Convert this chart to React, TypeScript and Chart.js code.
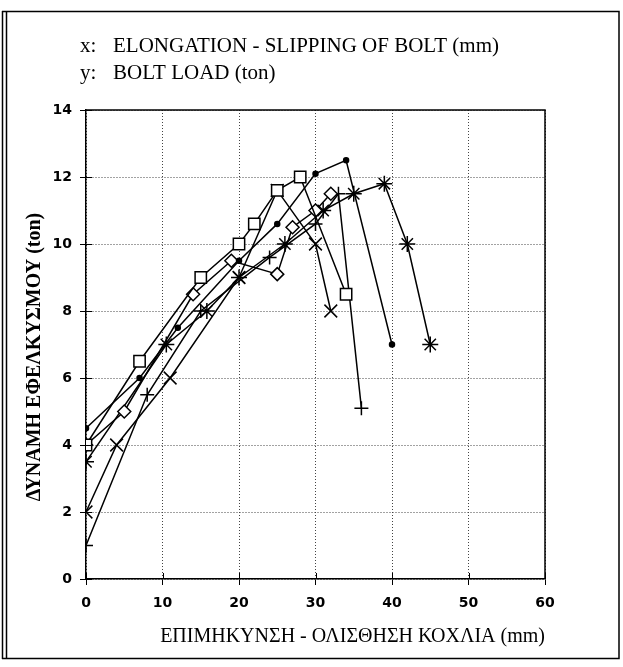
import React, { useEffect, useRef } from "react";
import { Chart, registerables } from "chart.js";

Chart.register(...registerables);

// ---- Text ----
const headerMarks = ["x:", "y:"];
const headerTexts = ["ELONGATION - SLIPPING OF BOLT (mm)", "BOLT LOAD (ton)"];
const xAxisTitle = "ΕΠΙΜΗΚΥΝΣΗ - ΟΛΙΣΘΗΣΗ ΚΟΧΛΙΑ (mm)";
const yAxisTitle = "ΔΥΝΑΜΗ ΕΦΕΛΚΥΣΜΟΥ (ton)";

// ---- Axes ----
const xMin = 0;
const xMax = 60;
const xStep = 10;
const yMin = 0;
const yMax = 14;
const yStep = 2;

// ---- Series (x: elongation mm, y: load ton) ----
const squareX = [0, 7, 15, 20, 22, 25, 28, 34];
const squareY = [4, 6.5, 9, 10, 10.6, 11.6, 12, 8.5];

const dotX = [0, 7, 12, 20, 25, 30, 34, 40];
const dotY = [4.5, 6, 7.5, 9.5, 10.6, 12.1, 12.5, 7];

const diamondX = [0, 5, 14, 19, 25, 27, 30, 32];
const diamondY = [4, 5, 8.5, 9.5, 9.1, 10.5, 11, 11.5];

const plusX = [0, 8, 15, 24, 30, 33, 36];
const plusY = [1, 5.5, 8, 9.6, 10.6, 11.5, 5.1];

const crossX = [0, 4, 11, 20, 25, 30, 32];
const crossY = [2, 4, 6, 9, 11.6, 10, 8];

const starX = [0, 10.5, 15.8, 20, 26, 31, 35, 39, 42, 45];
const starY = [3.5, 7, 8, 9, 10, 11, 11.5, 11.8, 10, 7];

const pts = (xs: number[], ys: number[]) => xs.map((x, i) => ({ x, y: ys[i] }));

const framePlugin = {
  id: "framePlugin",
  beforeDraw(chart: any) {
    const { ctx, width, height } = chart;
    ctx.save();
    ctx.fillStyle = "#ffffff";
    ctx.fillRect(0, 0, width, height);
    ctx.restore();
  },
  afterDraw(chart: any) {
    const { ctx, chartArea: a, scales } = chart;
    ctx.save();
    // header text
    ctx.fillStyle = "#000";
    ctx.font = '21px "Liberation Serif"';
    ctx.textAlign = "left";
    ctx.textBaseline = "alphabetic";
    ctx.fillText(headerMarks[0], 80, 52);
    ctx.fillText(headerTexts[0], 113, 52);
    ctx.fillText(headerMarks[1], 80, 79);
    ctx.fillText(headerTexts[1], 113, 79);

    // y axis title (rotated)
    ctx.save();
    ctx.translate(35, 357);
    ctx.rotate(-Math.PI / 2);
    ctx.font = 'bold 20px "Liberation Serif"';
    ctx.textAlign = "center";
    ctx.textBaseline = "middle";
    ctx.fillText(yAxisTitle, 0, 0);
    ctx.restore();

    // plot box top/right
    ctx.strokeStyle = "#000";
    ctx.lineWidth = 1.5;
    ctx.beginPath();
    ctx.moveTo(a.left, a.top);
    ctx.lineTo(a.right, a.top);
    ctx.lineTo(a.right, a.bottom);
    ctx.stroke();

    // inward tick marks
    ctx.lineWidth = 1;
    ctx.beginPath();
    scales.x.ticks.forEach((t: any) => {
      const px = Math.round(scales.x.getPixelForValue(t.value)) + 0.5;
      ctx.moveTo(px, a.bottom);
      ctx.lineTo(px, a.bottom - 6);
    });
    scales.y.ticks.forEach((t: any) => {
      const py = Math.round(scales.y.getPixelForValue(t.value)) + 0.5;
      ctx.moveTo(a.left, py);
      ctx.lineTo(a.left + 6, py);
    });
    ctx.stroke();

    // outer frame
    ctx.lineWidth = 1.5;
    ctx.beginPath();
    ctx.moveTo(2.5, 11);
    ctx.lineTo(2.5, 659);
    ctx.moveTo(6.5, 11);
    ctx.lineTo(6.5, 659);
    ctx.moveTo(2, 11.5);
    ctx.lineTo(619, 11.5);
    ctx.lineTo(619, 658.5);
    ctx.lineTo(2, 658.5);
    ctx.stroke();
    ctx.restore();
  },
};

export default function App() {
  const ref = useRef<HTMLCanvasElement | null>(null);

  useEffect(() => {
    if (!ref.current) return;
    const base = {
      showLine: true,
      borderColor: "#000",
      borderWidth: 1.5,
      tension: 0,
      pointBorderColor: "#000",
      pointBorderWidth: 1.5,
      pointHoverRadius: 0,
    };
    const tickFont = { family: '"DejaVu Sans"', size: 14, weight: "bold" };
    const chart = new Chart(ref.current, {
      type: "scatter",
      data: {
        datasets: [
          { ...base, label: "square", data: pts(squareX, squareY), pointStyle: "rect", pointRadius: 8, pointBackgroundColor: "#fff" },
          { ...base, label: "dot", data: pts(dotX, dotY), pointStyle: "circle", pointRadius: 2.5, pointBackgroundColor: "#000" },
          { ...base, label: "diamond", data: pts(diamondX, diamondY), pointStyle: "rectRot", pointRadius: 6.5, pointBackgroundColor: "#fff" },
          { ...base, label: "plus", data: pts(plusX, plusY), pointStyle: "cross", pointRadius: 7, pointBackgroundColor: "#000" },
          { ...base, label: "cross", data: pts(crossX, crossY), pointStyle: "crossRot", pointRadius: 9, pointBackgroundColor: "#000" },
          { ...base, label: "star", data: pts(starX, starY), pointStyle: "star", pointRadius: 8, pointBackgroundColor: "#000" },
        ],
      },
      options: {
        responsive: false,
        animation: false,
        devicePixelRatio: 1,
        layout: { padding: { left: 10, right: 78, top: 110, bottom: 18 } },
        plugins: {
          legend: { display: false },
          tooltip: { enabled: false },
          title: { display: false },
        },
        scales: {
          x: {
            type: "linear",
            min: xMin,
            max: xMax,
            afterFit: (s: any) => {
              s.height = 70;
            },
            ticks: {
              stepSize: xStep,
              color: "#000",
              padding: 10,
              font: tickFont,
            },
            grid: { color: "#444", lineWidth: 1, tickLength: 6, tickColor: "#000", tickWidth: 1 },
            border: { display: true, color: "#000", width: 1.5, dash: [1, 2] },
            title: {
              display: true,
              text: xAxisTitle,
              align: "end",
              color: "#000",
              font: { family: '"Liberation Serif"', size: 20 },
              padding: { top: 0, bottom: 0 },
            },
          },
          y: {
            type: "linear",
            min: yMin,
            max: yMax,
            afterFit: (s: any) => {
              s.width = 76;
            },
            ticks: {
              stepSize: yStep,
              color: "#000",
              padding: 8,
              font: tickFont,
            },
            grid: { color: "#444", lineWidth: 1, tickLength: 6, tickColor: "#000", tickWidth: 1 },
            border: { display: true, color: "#000", width: 1.5, dash: [1, 2] },
            title: { display: false },
          },
        },
      },
      plugins: [framePlugin],
    } as any);
    return () => chart.destroy();
  }, []);

  return (
    <div style={{ position: "fixed", left: 0, top: 0, width: 623, height: 667, background: "#fff" }}>
      <canvas ref={ref} width={623} height={667} style={{ display: "block" }} />
    </div>
  );
}
